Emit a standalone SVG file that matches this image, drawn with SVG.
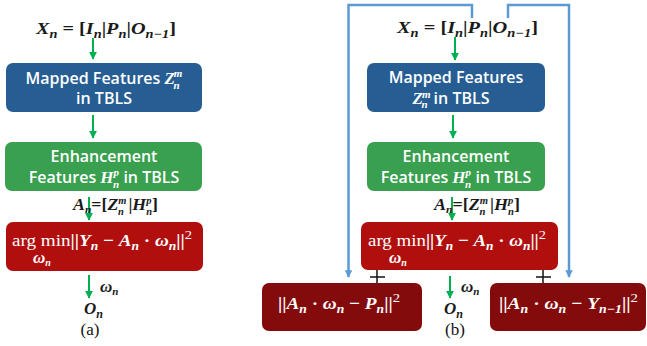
<svg xmlns="http://www.w3.org/2000/svg" width="647" height="346" viewBox="0 0 647 346">
<style>
.box{stroke:none}
.blue{fill:#265D93}
.green{fill:#38A04E}
.red{fill:#B10E0E}
.dred{fill:#840B0B}
.lbl{font-family:"Open Sans","Liberation Sans",sans-serif;font-weight:600;font-size:16px;fill:#fff;text-anchor:middle}
.m{font-family:"Liberation Serif","DejaVu Serif",serif;font-weight:bold;font-style:italic}
.mr{font-family:"Liberation Serif","DejaVu Serif",serif;font-weight:normal;font-style:normal}
.eq{font-family:"Liberation Serif","DejaVu Serif",serif;font-weight:bold;font-size:17px;fill:#1a1a1a}
.weq{font-family:"Liberation Serif","DejaVu Serif",serif;font-weight:bold;font-size:17px;fill:#fff}
.cap{font-family:"Liberation Serif",serif;font-size:17px;fill:#111;text-anchor:middle}
.ga{stroke:#00B050;stroke-width:2;fill:none;marker-end:url(#gh)}
.ba{stroke:#5B9BD5;stroke-width:2.5;fill:none}
.plus{stroke:#111;stroke-width:1.5}
</style>
<defs>
<marker id="gh" viewBox="0 0 10 10" refX="9" refY="5" markerWidth="4" markerHeight="4" orient="auto" markerUnits="strokeWidth">
<path d="M0,0 L10,5 L0,10 z" fill="#00B050"/>
</marker>
<marker id="bh" viewBox="0 0 10 10" refX="9" refY="5" markerWidth="3" markerHeight="3" orient="auto" markerUnits="strokeWidth">
<path d="M0,0 L10,5 L0,10 z" fill="#5B9BD5"/>
</marker>
</defs>

<g id="connectors">
<line class="ga" x1="93" y1="38" x2="93" y2="59"/>
<line class="ga" x1="93" y1="115" x2="93" y2="138"/>
<line class="ga" x1="89" y1="197" x2="89" y2="220"/>
<line class="ga" x1="89" y1="275" x2="89" y2="298"/>
<line class="ga" x1="455" y1="37" x2="455" y2="60"/>
<line class="ga" x1="453" y1="115" x2="453" y2="138"/>
<line class="ga" x1="452" y1="197" x2="452" y2="220"/>
<line class="ga" x1="450" y1="276" x2="450" y2="298"/>
<path class="ba" d="M472,18 V5 H348.5 V277" marker-end="url(#bh)"/>
<path class="ba" d="M508,18 V5 H569 V277" marker-end="url(#bh)"/>
<line class="plus" x1="377" y1="270" x2="377" y2="283"/>
<line class="plus" x1="370" y1="277" x2="385" y2="277"/>
<line class="plus" x1="543" y1="270" x2="543" y2="283"/>
<line class="plus" x1="536" y1="277" x2="551" y2="277"/>
</g>

<!-- Panel (a) -->
<g id="input-a">
<text class="eq" x="36" y="34" textLength="140" lengthAdjust="spacingAndGlyphs"><tspan class="m">X</tspan><tspan class="m" font-size="12" dy="4">n</tspan><tspan dy="-4"> = [</tspan><tspan class="m">I</tspan><tspan class="m" font-size="12" dy="4">n</tspan><tspan dy="-4">|</tspan><tspan class="m">P</tspan><tspan class="m" font-size="12" dy="4">n</tspan><tspan dy="-4">|</tspan><tspan class="m">O</tspan><tspan class="m" font-size="12" dy="4">n−1</tspan><tspan dy="-4">]</tspan></text>
</g>
<g id="mapped-a">
<rect class="box blue" x="6" y="63" width="196" height="49" rx="7"/>
<text class="lbl" x="104" y="84">Mapped Features <tspan class="m" font-size="17">Z</tspan><tspan class="m" font-size="11" dx="-1" dy="-7">m</tspan><tspan class="m" font-size="11" dx="-9" dy="12">n</tspan></text>
<text class="lbl" x="104" y="104">in TBLS</text>
</g>
<g id="enh-a">
<rect class="box green" x="5" y="142" width="197" height="49" rx="7"/>
<text class="lbl" x="104" y="162">Enhancement</text>
<text class="lbl" x="104" y="183">Features <tspan class="m" font-size="17">H</tspan><tspan class="m" font-size="11" dy="-7">p</tspan><tspan class="m" font-size="11" dx="-6" dy="12">n</tspan><tspan dy="-5">  in TBLS</tspan></text>
</g>
<g id="an-a">
<text class="eq" x="73" y="210" font-size="15" textLength="85" lengthAdjust="spacingAndGlyphs"><tspan class="m">A</tspan><tspan class="m" font-size="11" dy="3">n</tspan><tspan dy="-3">=[</tspan><tspan class="m">Z</tspan><tspan class="m" font-size="10" dy="-6">m</tspan><tspan class="m" font-size="10" dx="-8" dy="11">n</tspan><tspan dy="-5"> |</tspan><tspan class="m">H</tspan><tspan class="m" font-size="10" dy="-6">p</tspan><tspan class="m" font-size="10" dx="-5" dy="11">n</tspan><tspan dy="-5">]</tspan></text>
</g>
<g id="opt-a">
<rect class="box red" x="6" y="222" width="197" height="49" rx="7"/>
<text class="weq" x="12" y="246" textLength="180" lengthAdjust="spacingAndGlyphs"><tspan class="mr">arg min</tspan><tspan>||</tspan><tspan class="m">Y</tspan><tspan class="m" font-size="12" dy="4">n</tspan><tspan dy="-4"> − </tspan><tspan class="m">A</tspan><tspan class="m" font-size="12" dy="4">n</tspan><tspan dy="-4"> · </tspan><tspan class="m">ω</tspan><tspan class="m" font-size="12" dy="4">n</tspan><tspan dy="-4">||</tspan><tspan class="mr" font-size="13" dy="-7">2</tspan></text>
<text class="weq m" x="33" y="263" font-size="13">ω<tspan font-size="10" dy="3">n</tspan></text>
</g>
<g id="out-a">
<text class="eq m" x="100" y="292" font-size="14">ω<tspan font-size="11" dy="3">n</tspan></text>
<text class="eq m" x="84" y="314" font-size="16">O<tspan font-size="12" dy="4">n</tspan></text>
<text class="cap" x="90" y="335">(a)</text>
</g>

<!-- Panel (b) -->
<g id="input-b">
<text class="eq" x="397" y="33" textLength="141" lengthAdjust="spacingAndGlyphs"><tspan class="m">X</tspan><tspan class="m" font-size="12" dy="4">n</tspan><tspan dy="-4"> = [</tspan><tspan class="m">I</tspan><tspan class="m" font-size="12" dy="4">n</tspan><tspan dy="-4">|</tspan><tspan class="m">P</tspan><tspan class="m" font-size="12" dy="4">n</tspan><tspan dy="-4">|</tspan><tspan class="m">O</tspan><tspan class="m" font-size="12" dy="4">n−1</tspan><tspan dy="-4">]</tspan></text>
</g>
<g id="mapped-b">
<rect class="box blue" x="367" y="63" width="178" height="49" rx="7"/>
<text class="lbl" x="456" y="83">Mapped Features</text>
<text class="lbl" x="451" y="104"><tspan class="m" font-size="17">Z</tspan><tspan class="m" font-size="11" dx="-1" dy="-6">m</tspan><tspan class="m" font-size="11" dx="-9" dy="10">n</tspan><tspan dy="-4" dx="6">in TBLS</tspan></text>
</g>
<g id="enh-b">
<rect class="box green" x="367" y="142" width="178" height="49" rx="7"/>
<text class="lbl" x="456" y="162">Enhancement</text>
<text class="lbl" x="456" y="183">Features <tspan class="m" font-size="17">H</tspan><tspan class="m" font-size="11" dy="-7">p</tspan><tspan class="m" font-size="11" dx="-6" dy="12">n</tspan><tspan dy="-5">  in TBLS</tspan></text>
</g>
<g id="an-b">
<text class="eq" x="434" y="210" font-size="15" textLength="86" lengthAdjust="spacingAndGlyphs"><tspan class="m">A</tspan><tspan class="m" font-size="11" dy="3">n</tspan><tspan dy="-3">=[</tspan><tspan class="m">Z</tspan><tspan class="m" font-size="10" dy="-6">m</tspan><tspan class="m" font-size="10" dx="-8" dy="11">n</tspan><tspan dy="-5"> |</tspan><tspan class="m">H</tspan><tspan class="m" font-size="10" dy="-6">p</tspan><tspan class="m" font-size="10" dx="-5" dy="11">n</tspan><tspan dy="-5">]</tspan></text>
</g>
<g id="opt-b">
<rect class="box red" x="361" y="222" width="197" height="48" rx="7"/>
<text class="weq" x="368" y="246" textLength="178" lengthAdjust="spacingAndGlyphs"><tspan class="mr">arg min</tspan><tspan>||</tspan><tspan class="m">Y</tspan><tspan class="m" font-size="12" dy="4">n</tspan><tspan dy="-4"> − </tspan><tspan class="m">A</tspan><tspan class="m" font-size="12" dy="4">n</tspan><tspan dy="-4"> · </tspan><tspan class="m">ω</tspan><tspan class="m" font-size="12" dy="4">n</tspan><tspan dy="-4">||</tspan><tspan class="mr" font-size="13" dy="-7">2</tspan></text>
<text class="weq m" x="389" y="263" font-size="13">ω<tspan font-size="10" dy="3">n</tspan></text>
</g>
<g id="reg-p">
<rect class="box dred" x="262" y="283" width="160" height="48" rx="7"/>
<text class="weq" x="278" y="309" textLength="122" lengthAdjust="spacingAndGlyphs"><tspan>||</tspan><tspan class="m">A</tspan><tspan class="m" font-size="12" dy="4">n</tspan><tspan dy="-4"> · </tspan><tspan class="m">ω</tspan><tspan class="m" font-size="12" dy="4">n</tspan><tspan dy="-4"> − </tspan><tspan class="m">P</tspan><tspan class="m" font-size="12" dy="4">n</tspan><tspan dy="-4">||</tspan><tspan class="mr" font-size="13" dy="-7">2</tspan></text>
</g>
<g id="reg-y">
<rect class="box dred" x="490" y="283" width="156" height="48" rx="7"/>
<text class="weq" x="499" y="309" textLength="139" lengthAdjust="spacingAndGlyphs"><tspan>||</tspan><tspan class="m">A</tspan><tspan class="m" font-size="12" dy="4">n</tspan><tspan dy="-4"> · </tspan><tspan class="m">ω</tspan><tspan class="m" font-size="12" dy="4">n</tspan><tspan dy="-4"> − </tspan><tspan class="m">Y</tspan><tspan class="m" font-size="12" dy="4">n−1</tspan><tspan dy="-4">||</tspan><tspan class="mr" font-size="13" dy="-7">2</tspan></text>
</g>
<g id="out-b">
<text class="eq m" x="461" y="292" font-size="14">ω<tspan font-size="11" dy="3">n</tspan></text>
<text class="eq m" x="444" y="314" font-size="16">O<tspan font-size="12" dy="4">n</tspan></text>
<text class="cap" x="455" y="335">(b)</text>
</g>
</svg>
